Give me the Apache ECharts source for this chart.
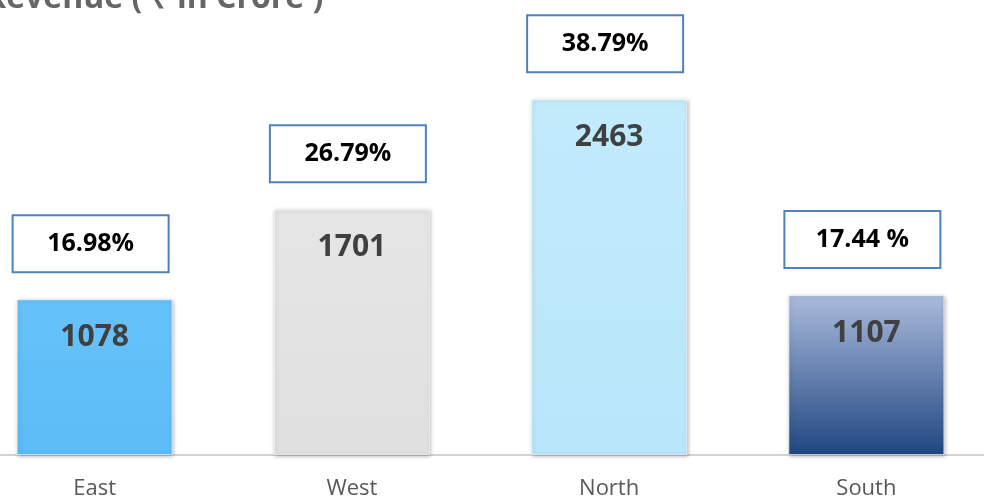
<!DOCTYPE html>
<html>
<head>
<meta charset="utf-8">
<script src="https://cdn.jsdelivr.net/npm/echarts@6/dist/echarts.min.js"></script>
<style>
  html, body { margin: 0; padding: 0; background: #fff; }
  #main { width: 984px; height: 499px; }
</style>
</head>
<body>
<div id="main"></div>
<script>
// data
var regions = ['East', 'West', 'North', 'South'];
var revenue = [1078, 1701, 2463, 1107];
var shares = ['16.98%', '26.79%', '38.79%', '17.44 %'];

// bar fills, one per region
function grad(top, bottom) {
    return new echarts.graphic.LinearGradient(0, 0, 0, 1, [
        { offset: 0, color: top },
        { offset: 1, color: bottom }
    ]);
}
var fills = [
    grad('#66c2fa', '#5cbcf7'),
    grad('#e6e6e6', '#e0e0e0'),
    grad('#c2ebfc', '#b9e6fb'),
    grad('#aabbdc', '#1f4680')
];

var myChart = echarts.init(document.getElementById('main'));
var option = {
    animation: false,
    title: {
        text: 'Revenue ( \u20b9 in Crore )',
        left: -20,
        top: -22,
        textStyle: {
            fontFamily: 'Open Sans',
            fontSize: 32,
            fontWeight: 'bold',
            color: '#666'
        }
    },
    grid: {
        left: -34,
        right: -11,
        top: 0,
        bottom: 44,
        outerBoundsMode: 'none',
        containLabel: false
    },
    xAxis: {
        type: 'category',
        data: regions,
        axisLine: { lineStyle: { color: '#d4d4d4', width: 2 } },
        axisTick: { show: false },
        axisLabel: {
            margin: 23,
            fontFamily: 'Open Sans',
            fontSize: 22,
            color: '#595959'
        }
    },
    yAxis: {
        type: 'value',
        min: 0,
        max: 3150,
        show: false,
        splitLine: { show: false }
    },
    series: [{
        type: 'bar',
        barWidth: 156,
        data: revenue.map(function(v, i) {
            return { value: v, itemStyle: { color: fills[i] } };
        }),
        itemStyle: {
            borderColor: 'rgba(255,255,255,0.6)',
            borderWidth: 1,
            shadowColor: 'rgba(0,0,0,0.3)',
            shadowBlur: 4,
            shadowOffsetX: 1,
            shadowOffsetY: 1
        },
        label: {
            show: true,
            position: 'insideTop',
            distance: 23,
            fontFamily: 'Open Sans',
            fontSize: 30,
            fontWeight: 'bold',
            color: '#404040'
        }
    }, {
        // percentage boxes above the bars
        type: 'bar',
        barWidth: 156,
        barGap: '-100%',
        data: revenue,
        itemStyle: { color: 'rgba(0,0,0,0)' },
        silent: true,
        label: {
            show: true,
            position: 'top',
            distance: 28,
            offset: [-4, 0],
            formatter: function(p) { return shares[p.dataIndex]; },
            width: 154,
            height: 55,
            lineHeight: 55,
            align: 'center',
            backgroundColor: '#fff',
            borderColor: '#4f81bd',
            borderWidth: 2,
            fontFamily: 'Open Sans',
            fontSize: 25,
            fontWeight: 'bold',
            color: '#000'
        }
    }]
};
myChart.setOption(option);
</script>
</body>
</html>
